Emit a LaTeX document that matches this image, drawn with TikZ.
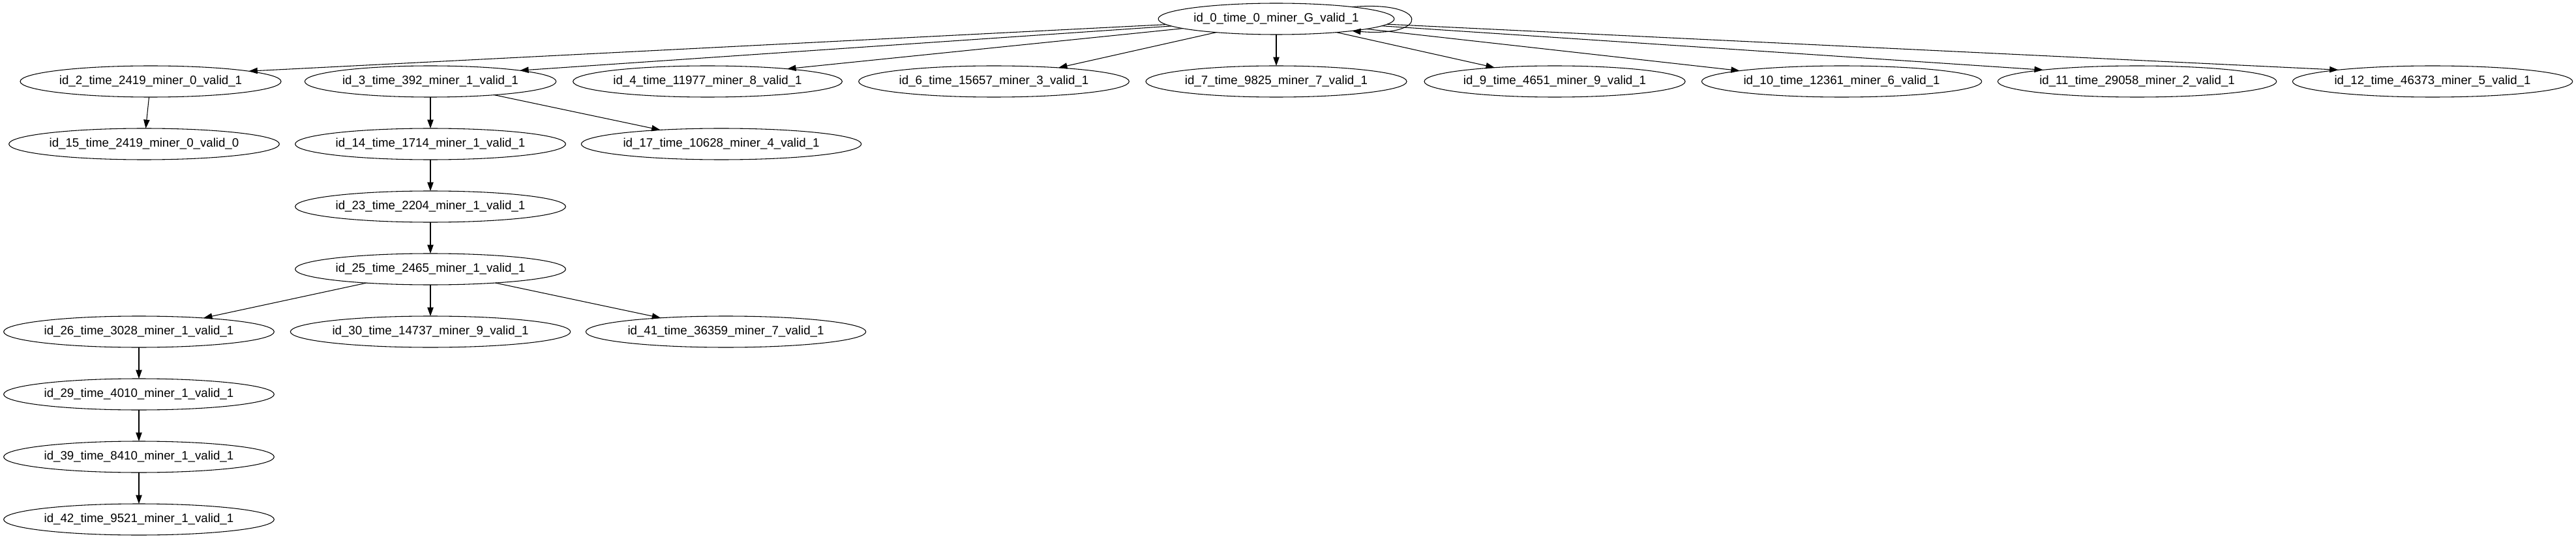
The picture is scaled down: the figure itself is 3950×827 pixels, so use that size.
\documentclass[tikz,border=0pt]{standalone}
\usepackage{fontspec}
\setmainfont{Liberation Sans}
\usetikzlibrary{arrows.meta,shapes.geometric}
\begin{document}
\begin{tikzpicture}[x=0.75pt,y=-0.75pt,
  gnode/.style={draw, ellipse, line width=0.8pt, inner xsep=1pt, inner ysep=0pt,
    minimum height=36pt, outer sep=0pt, font=\fontsize{14pt}{16pt}\selectfont},
  gedge/.style={draw, line width=0.8pt, -{Triangle[length=10pt,width=7pt]}}]
\useasboundingbox (0,0) rectangle (3950,827);
% rank 0
\node[gnode] (n0) at (1957,29) {id\_0\_time\_0\_miner\_G\_valid\_1};
% rank 1
\node[gnode] (n2)  at (231,125)  {id\_2\_time\_2419\_miner\_0\_valid\_1};
\node[gnode] (n3)  at (660,125)  {id\_3\_time\_392\_miner\_1\_valid\_1};
\node[gnode] (n4)  at (1085,125) {id\_4\_time\_11977\_miner\_8\_valid\_1};
\node[gnode] (n6)  at (1524,125) {id\_6\_time\_15657\_miner\_3\_valid\_1};
\node[gnode] (n7)  at (1957,125) {id\_7\_time\_9825\_miner\_7\_valid\_1};
\node[gnode] (n9)  at (2384,125) {id\_9\_time\_4651\_miner\_9\_valid\_1};
\node[gnode] (n10) at (2824,125) {id\_10\_time\_12361\_miner\_6\_valid\_1};
\node[gnode] (n11) at (3277,125) {id\_11\_time\_29058\_miner\_2\_valid\_1};
\node[gnode] (n12) at (3730,125) {id\_12\_time\_46373\_miner\_5\_valid\_1};
% rank 2
\node[gnode] (n15) at (221,221)  {id\_15\_time\_2419\_miner\_0\_valid\_0};
\node[gnode] (n14) at (660,221)  {id\_14\_time\_1714\_miner\_1\_valid\_1};
\node[gnode] (n17) at (1106,221) {id\_17\_time\_10628\_miner\_4\_valid\_1};
% rank 3, 4
\node[gnode] (n23) at (660,317) {id\_23\_time\_2204\_miner\_1\_valid\_1};
\node[gnode] (n25) at (660,413) {id\_25\_time\_2465\_miner\_1\_valid\_1};
% rank 5
\node[gnode] (n26) at (213,509)  {id\_26\_time\_3028\_miner\_1\_valid\_1};
\node[gnode] (n30) at (660,509)  {id\_30\_time\_14737\_miner\_9\_valid\_1};
\node[gnode] (n41) at (1113,509) {id\_41\_time\_36359\_miner\_7\_valid\_1};
% rank 6-8
\node[gnode] (n29) at (213,605) {id\_29\_time\_4010\_miner\_1\_valid\_1};
\node[gnode] (n39) at (213,701) {id\_39\_time\_8410\_miner\_1\_valid\_1};
\node[gnode] (n42) at (213,797) {id\_42\_time\_9521\_miner\_1\_valid\_1};
% edges from root
\draw[gedge] (n0) -- (n2.6);
\draw[gedge] (n0) -- (n3.7);
\draw[gedge] (n0) -- (n4.9);
\draw[gedge] (n0) -- (n6.12);
\draw[gedge] (n0) -- (n7);
\draw[gedge] (n0) -- (n9.167);
\draw[gedge] (n0) -- (n10.174);
\draw[gedge] (n0) -- (n11.173);
\draw[gedge] (n0) -- (n12.173);
\draw[gedge] (n0.9) .. controls +(120,-10) and +(120,10) .. (n0.-9);
% other edges
\draw[gedge] (n2) -- (n15);
\draw[gedge] (n3) -- (n14);
\draw[gedge] (n3) -- (n17.167);
\draw[gedge] (n14) -- (n23);
\draw[gedge] (n23) -- (n25);
\draw[gedge] (n25) -- (n26.12);
\draw[gedge] (n25) -- (n30);
\draw[gedge] (n25) -- (n41.168);
\draw[gedge] (n26) -- (n29);
\draw[gedge] (n29) -- (n39);
\draw[gedge] (n39) -- (n42);
\end{tikzpicture}
\end{document}
